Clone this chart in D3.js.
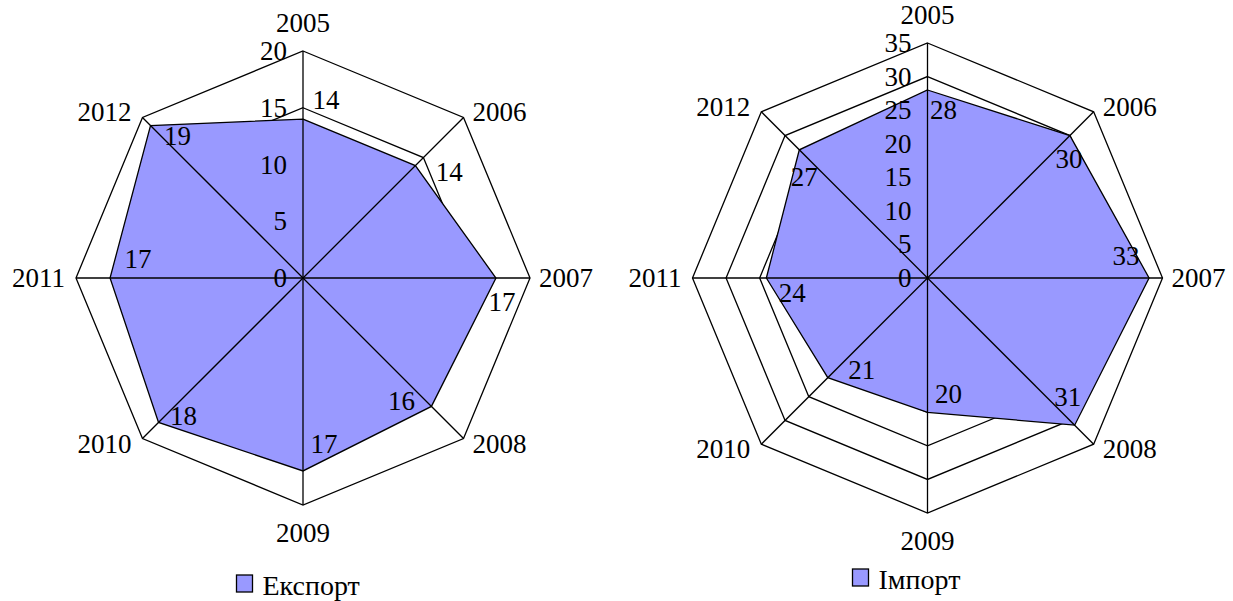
<!DOCTYPE html>
<html>
<head>
<meta charset="utf-8">
<script src="https://cdn.jsdelivr.net/npm/d3@7"></script>
<style>
  body { margin: 0; background: #fff; }
  svg text { font-family: "Liberation Serif", "Times New Roman", serif; font-size: 27px; fill: #000; }
</style>
</head>
<body>
<svg id="chart" width="1233" height="601"></svg>
<script>
const years = ['2005', '2006', '2007', '2008', '2009', '2010', '2011', '2012'];

const exportValues = [14, 14, 17, 16, 17, 18, 17, 19];
const exportTicks = [0, 5, 10, 15, 20];

const importValues = [28, 30, 33, 31, 20, 21, 24, 27];
const importTicks = [0, 5, 10, 15, 20, 25, 30, 35];

// label nudges (px from the point) - the source chart places them by hand
const exportLabelNudge = [[23, -19], [34, 6], [6, 24], [-30, -5], [21, -27], [25, -6], [28, -19], [27, 10]];
const importLabelNudge = [[16, 20], [-1, 23], [-23, -22], [-7, -28], [21, -18], [34, -8], [26, 15], [5, 27]];

const svg = d3.select('#chart');
const fillColor = '#9999ff';
const lineW = 1.3;

function drawRadar(opts) {
  const { cx, cy, radius, values, ticks, nudges, legend, legendX, legendY } = opts;
  const maxV = ticks[ticks.length - 1];
  const r = d3.scaleLinear().domain([0, maxV]).range([0, radius]);
  // one spoke per year, clockwise from the top
  const ang = i => (2 * Math.PI * i) / years.length;
  const pt = (i, v) => [cx + r(v) * Math.sin(ang(i)), cy - r(v) * Math.cos(ang(i))];

  const g = svg.append('g');

  // rings
  g.append('g')
    .selectAll('polygon')
    .data(ticks.filter(t => t > 0))
    .enter()
    .append('polygon')
      .attr('points', t => years.map((y, i) => pt(i, t).join(',')).join(' '))
      .attr('fill', 'none')
      .attr('stroke', '#000')
      .attr('stroke-width', lineW);

  // series area, covers the rings underneath
  g.append('polygon')
    .attr('points', values.map((v, i) => pt(i, v).join(',')).join(' '))
    .attr('fill', fillColor)
    .attr('stroke', '#000')
    .attr('stroke-width', lineW);

  // spokes
  g.append('g')
    .selectAll('line')
    .data(years)
    .enter()
    .append('line')
      .attr('x1', cx)
      .attr('y1', cy)
      .attr('x2', (y, i) => pt(i, maxV)[0])
      .attr('y2', (y, i) => pt(i, maxV)[1])
      .attr('stroke', '#000')
      .attr('stroke-width', lineW);

  // category labels
  g.append('g')
    .selectAll('text')
    .data(years)
    .enter()
    .append('text')
      .attr('dominant-baseline', 'central')
      .attr('text-anchor', (y, i) => {
        const s = Math.sin(ang(i));
        if (Math.abs(s) < 0.01) return 'middle';
        return s > 0 ? 'start' : 'end';
      })
      .attr('x', (y, i) => {
        const s = Math.sin(ang(i));
        const v = pt(i, maxV);
        if (Math.abs(s) < 0.01) return v[0];
        return v[0] + (s > 0 ? 9 : -11);
      })
      .attr('y', (y, i) => {
        const s = Math.sin(ang(i));
        const c = Math.cos(ang(i));
        const v = pt(i, maxV);
        if (Math.abs(s) < 0.01) return v[1] - 28 * Math.sign(c);
        if (Math.abs(c) < 0.01) return v[1];
        return v[1] - 5 * Math.sign(c);
      })
      .text(y => y);

  // value axis tick labels
  g.append('g')
    .selectAll('text')
    .data(ticks)
    .enter()
    .append('text')
      .attr('text-anchor', 'end')
      .attr('dominant-baseline', 'central')
      .attr('x', cx - 16)
      .attr('y', t => cy - r(t))
      .text(t => t);

  // data labels
  g.append('g')
    .selectAll('text')
    .data(values)
    .enter()
    .append('text')
      .attr('text-anchor', 'middle')
      .attr('dominant-baseline', 'central')
      .attr('x', (v, i) => pt(i, v)[0] + nudges[i][0])
      .attr('y', (v, i) => pt(i, v)[1] + nudges[i][1])
      .text(v => v);

  // legend
  const lg = g.append('g').attr('transform', `translate(${legendX}, ${legendY})`);
  lg.append('rect')
    .attr('x', 0)
    .attr('y', -17)
    .attr('width', 16)
    .attr('height', 17)
    .attr('fill', fillColor)
    .attr('stroke', '#000')
    .attr('stroke-width', lineW);
  lg.append('text')
    .attr('x', 26)
    .attr('y', 3)
    .style('font-size', '28px')
    .text(legend);
}

drawRadar({
  cx: 303, cy: 278, radius: 227,
  values: exportValues, ticks: exportTicks, nudges: exportLabelNudge,
  legend: 'Експорт', legendX: 236.5, legendY: 592
});

drawRadar({
  cx: 927.5, cy: 278, radius: 235,
  values: importValues, ticks: importTicks, nudges: importLabelNudge,
  legend: 'Імпорт', legendX: 852.5, legendY: 586
});
</script>
</body>
</html>
